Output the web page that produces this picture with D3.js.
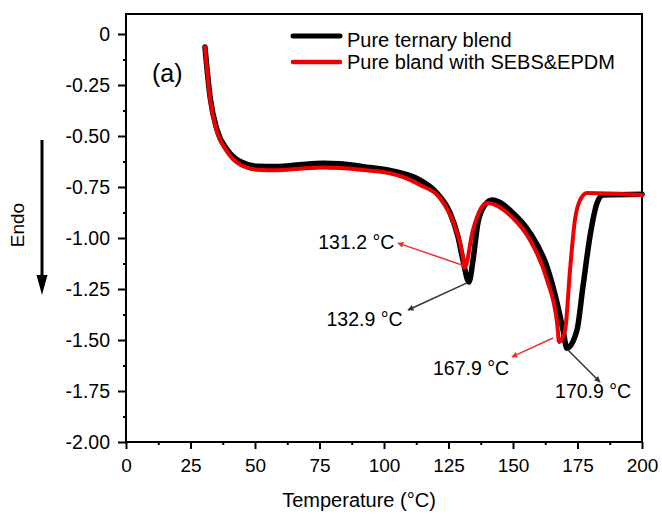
<!DOCTYPE html>
<html>
<head>
<meta charset="utf-8">
<script src="https://cdn.jsdelivr.net/npm/d3@7/dist/d3.min.js"></script>
<style>
  body { margin: 0; background: #fff; }
  svg { font-family: "Liberation Sans", Arial, Helvetica, sans-serif; }
</style>
</head>
<body>
<svg id="chart" width="662" height="515"></svg>
<script>
// series: temperature (°C) and heat flow
const ternaryTemp = [30.6, 32.6, 35.3, 39.1, 44.2, 50.8, 58.5, 67.4, 76.4, 82.9, 91.9, 105.0, 114.0, 120.5, 125.6, 128.7, 130.6, 132.9, 134.5, 136.4, 139.1, 141.9, 150.0, 156.6, 163.2, 167.1, 169.4, 170.9, 174.8, 177.1, 179.8, 182.6, 184.9, 200];
const ternaryVal = [-0.064, -0.31, -0.47, -0.565, -0.625, -0.648, -0.650, -0.641, -0.634, -0.636, -0.650, -0.676, -0.716, -0.779, -0.877, -0.995, -1.108, -1.216, -1.108, -0.926, -0.838, -0.814, -0.877, -0.975, -1.142, -1.319, -1.451, -1.54, -1.451, -1.24, -0.995, -0.828, -0.789, -0.785];

const sebsTemp = [30.6, 32.6, 35.3, 39.1, 44.2, 50.8, 58.5, 67.4, 76.4, 82.9, 91.9, 105.0, 114.0, 121.7, 127.5, 130.6, 131.2, 134.5, 137.2, 139.9, 150.0, 156.6, 163.2, 167.1, 167.9, 170.2, 172.1, 174.0, 176.0, 178.7, 200];
const sebsVal = [-0.064, -0.32, -0.48, -0.575, -0.64, -0.665, -0.668, -0.660, -0.654, -0.657, -0.667, -0.691, -0.74, -0.804, -0.946, -1.093, -1.147, -0.96, -0.863, -0.828, -0.902, -1.01, -1.206, -1.417, -1.51, -1.451, -1.157, -0.912, -0.814, -0.779, -0.789];

const seriesNames = ["Pure ternary blend", "Pure bland with SEBS&EPDM"];
const seriesColors = ["#000000", "#ee0000"];

const xTicks = [0, 25, 50, 75, 100, 125, 150, 175, 200];
const yTicks = [0, -0.25, -0.5, -0.75, -1, -1.25, -1.5, -1.75, -2];

// peak labels: text, arrow from / to and text spot, in data units
const peakLabels = ["131.2 °C", "132.9 °C", "167.9 °C", "170.9 °C"];
const peakColors = ["#e8322d", "#333333", "#e8322d", "#333333"];
const arrowFrom = [[130.2, -1.132], [132.2, -1.22], [165.5, -1.49], [171.3, -1.549]];
const arrowTo = [[105.4, -1.025], [109.3, -1.353], [149.6, -1.583], [183.7, -1.706]];
const labelAt = [[104.0, -1.054], [107.2, -1.431], [148.5, -1.672], [166.3, -1.784]];
const labelAnchor = ["end", "end", "end", "start"];

const svg = d3.select("#chart");
const plotLeft = 126, plotRight = 642, plotTop = 14, plotBottom = 442;

const x = d3.scaleLinear().domain([0, 200]).range([plotLeft, plotRight]);
const y = d3.scaleLinear().domain([-2, 0]).range([plotBottom, 34]);

// frame
svg.append("rect")
  .attr("x", plotLeft).attr("y", plotTop)
  .attr("width", plotRight - plotLeft).attr("height", plotBottom - plotTop)
  .attr("fill", "none").attr("stroke", "#000").attr("stroke-width", 2);

// x axis
const xAxis = svg.append("g").attr("transform", `translate(0,${plotBottom})`);
xAxis.call(d3.axisBottom(x).tickValues(d3.range(12.5, 200, 25)).tickSize(3).tickFormat(""));
xAxis.append("g").call(d3.axisBottom(x).tickValues(xTicks).tickSize(7).tickPadding(10).tickFormat(d3.format("d")));
xAxis.selectAll(".domain").remove();
xAxis.selectAll("line").attr("stroke-width", 2);
xAxis.selectAll("text").attr("font-size", 19).attr("fill", "#000").attr("font-family", null);

// y axis
const yAxis = svg.append("g").attr("transform", `translate(${plotLeft},0)`);
yAxis.call(d3.axisLeft(y).tickValues(d3.range(-1.875, 0, 0.25)).tickSize(3).tickFormat(""));
yAxis.append("g").call(d3.axisLeft(y).tickValues(yTicks).tickSize(8).tickPadding(8)
  .tickFormat(d => d === 0 ? "0" : d.toFixed(2)));
yAxis.selectAll(".domain").remove();
yAxis.selectAll("line").attr("stroke-width", 2);
yAxis.selectAll("text").attr("font-size", 19.5).attr("fill", "#000").attr("font-family", null);

// axis titles
svg.append("text").attr("x", 359).attr("y", 507)
  .attr("text-anchor", "middle").attr("font-size", 20).text("Temperature (°C)");
svg.append("text").attr("transform", "translate(24,225) rotate(-90)")
  .attr("text-anchor", "middle").attr("font-size", 19).text("Endo");

// Endo arrow
svg.append("line").attr("x1", 42).attr("y1", 140).attr("x2", 42).attr("y2", 278)
  .attr("stroke", "#000").attr("stroke-width", 3);
svg.append("path").attr("d", "M36.5,275L47.5,275L42,295Z").attr("fill", "#000");

// panel tag
svg.append("text").attr("x", 152).attr("y", 82).attr("font-size", 25).text("(a)");

// curves
const line = d3.line().x(d => x(d[0])).y(d => y(d[1])).curve(d3.curveMonotoneX);
const ternary = ternaryTemp.map((t, i) => [t, ternaryVal[i]]);
const sebs = sebsTemp.map((t, i) => [t, sebsVal[i]]);
svg.append("path").datum(ternary).attr("d", line)
  .attr("fill", "none").attr("stroke", seriesColors[0]).attr("stroke-width", 5.5)
  .attr("stroke-linejoin", "round").attr("stroke-linecap", "round");
svg.append("path").datum(sebs).attr("d", line)
  .attr("fill", "none").attr("stroke", seriesColors[1]).attr("stroke-width", 4)
  .attr("stroke-linejoin", "round").attr("stroke-linecap", "round");

// peak annotations
const defs = svg.append("defs");
peakLabels.forEach((lab, i) => {
  const id = "arr" + i;
  defs.append("marker").attr("id", id).attr("viewBox", "0 0 10 10")
    .attr("refX", 9).attr("refY", 5).attr("markerWidth", 8).attr("markerHeight", 6)
    .attr("markerUnits", "userSpaceOnUse").attr("orient", "auto")
    .append("path").attr("d", "M0,0L10,5L0,10Z").attr("fill", peakColors[i]);
  svg.append("line")
    .attr("x1", x(arrowFrom[i][0])).attr("y1", y(arrowFrom[i][1]))
    .attr("x2", x(arrowTo[i][0])).attr("y2", y(arrowTo[i][1]))
    .attr("stroke", peakColors[i]).attr("stroke-width", 1.5)
    .attr("marker-end", `url(#${id})`);
  svg.append("text").attr("x", x(labelAt[i][0])).attr("y", y(labelAt[i][1]))
    .attr("text-anchor", labelAnchor[i]).attr("font-size", 19.5).text(lab);
});

// legend
const legend = svg.append("g");
const legendY = [36, 62];
const textY = [47, 69];
seriesNames.forEach((name, i) => {
  legend.append("line").attr("x1", 293).attr("x2", 340)
    .attr("y1", legendY[i]).attr("y2", legendY[i])
    .attr("stroke", seriesColors[i]).attr("stroke-width", i === 0 ? 5 : 4.5)
    .attr("stroke-linecap", "round");
  legend.append("text").attr("x", 347).attr("y", textY[i])
    .attr("font-size", 20).text(name);
});
</script>
</body>
</html>
